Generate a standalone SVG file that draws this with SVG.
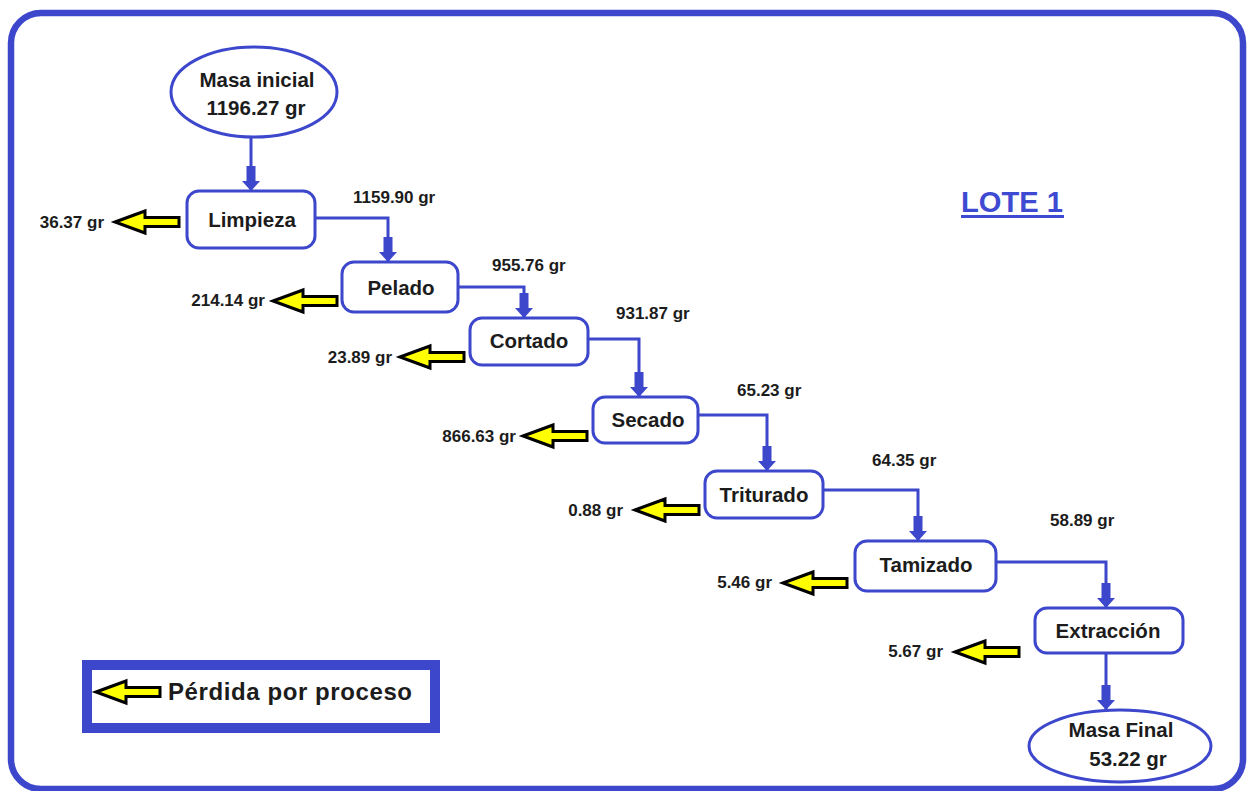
<svg xmlns="http://www.w3.org/2000/svg" width="1250" height="791" viewBox="0 0 1250 791">
  <style>
    .frame { fill: #ffffff; stroke: #3d47cc; stroke-width: 6.5; }
    .box { fill: #ffffff; stroke: #3d47cc; stroke-width: 3; }
    .flow { fill: none; stroke: #3d47cc; stroke-width: 3; }
    .node-text { font-family: "Liberation Sans", Arial, sans-serif; font-weight: bold; font-size: 20.5px; fill: #1c1c1c; text-anchor: middle; }
    .qty { font-family: "Liberation Sans", Arial, sans-serif; font-weight: bold; font-size: 17px; fill: #1c1c1c; }
    .loss-label { text-anchor: end; }
    .title { font-family: "Liberation Sans", Arial, sans-serif; font-weight: bold; font-size: 29px; fill: #3f4ad2; }
    .legend-text { font-family: "Liberation Sans", Arial, sans-serif; font-weight: bold; font-size: 24px; fill: #1c1c1c; }
  </style>
  <defs>
    <!-- blue block arrowhead for the mass flow -->
    <marker id="flowHead" markerUnits="userSpaceOnUse" orient="auto" viewBox="0 -10 27 20" refX="25" refY="0" markerWidth="27" markerHeight="20">
      <path d="M0,-4.5 H15 V-9 L25,0 L15,9 V4.5 H0 Z" fill="#3d47cc"/>
    </marker>
    <!-- yellow loss arrow, tip at the origin, pointing left -->
    <path id="loss" d="M0,0 L30,-11 L30,-4.5 L64,-4.5 L64,4.5 L30,4.5 L30,11 Z" fill="#ffff00" stroke="#000000" stroke-width="3" stroke-linejoin="miter"/>
  </defs>

  <!-- outer frame -->
  <rect class="frame" x="11" y="13" width="1232" height="776" rx="30" ry="30"/>

  <!-- title -->
  <g id="title">
    <text class="title" x="961" y="212" textLength="102" lengthAdjust="spacingAndGlyphs">LOTE 1</text>
    <rect x="961" y="215" width="103" height="3" fill="#3f4ad2"/>
  </g>

  <!-- connectors -->
  <g id="connectors">
    <path class="flow" d="M251,137 V191" marker-end="url(#flowHead)"/>
    <path class="flow" d="M315,218 H388 V262" marker-end="url(#flowHead)"/>
    <path class="flow" d="M458,287 H524 V318" marker-end="url(#flowHead)"/>
    <path class="flow" d="M588,339 H639 V397" marker-end="url(#flowHead)"/>
    <path class="flow" d="M698,415 H767 V471" marker-end="url(#flowHead)"/>
    <path class="flow" d="M823,490 H918 V541" marker-end="url(#flowHead)"/>
    <path class="flow" d="M996,562 H1106 V608" marker-end="url(#flowHead)"/>
    <path class="flow" d="M1106,653 V710" marker-end="url(#flowHead)"/>
  </g>

  <!-- flow quantities -->
  <g id="flow-labels" class="qty">
    <text x="353" y="203">1159.90 gr</text>
    <text x="492" y="271">955.76 gr</text>
    <text x="616" y="319">931.87 gr</text>
    <text x="737" y="396">65.23 gr</text>
    <text x="872" y="466">64.35 gr</text>
    <text x="1050" y="526">58.89 gr</text>
  </g>

  <!-- nodes -->
  <g id="masa-inicial">
    <ellipse class="box" cx="254" cy="92" rx="83" ry="45"/>
    <text class="node-text" x="257" y="87">Masa inicial</text>
    <text class="node-text" x="256" y="115">1196.27 gr</text>
  </g>

  <g id="limpieza">
    <rect class="box" x="187" y="191" width="128" height="57" rx="12"/>
    <text class="node-text" x="252" y="227">Limpieza</text>
    <use href="#loss" x="115" y="222"/>
    <text class="qty loss-label" x="104" y="228">36.37 gr</text>
  </g>

  <g id="pelado">
    <rect class="box" x="342" y="262" width="116" height="50" rx="12"/>
    <text class="node-text" x="401" y="295">Pelado</text>
    <use href="#loss" x="273" y="301"/>
    <text class="qty loss-label" x="265" y="306">214.14 gr</text>
  </g>

  <g id="cortado">
    <rect class="box" x="470" y="318" width="118" height="47" rx="12"/>
    <text class="node-text" x="529" y="348">Cortado</text>
    <use href="#loss" x="400" y="357"/>
    <text class="qty loss-label" x="392" y="363">23.89 gr</text>
  </g>

  <g id="secado">
    <rect class="box" x="593" y="397" width="105" height="46" rx="12"/>
    <text class="node-text" x="648" y="427">Secado</text>
    <use href="#loss" x="523" y="436"/>
    <text class="qty loss-label" x="516" y="442">866.63 gr</text>
  </g>

  <g id="triturado">
    <rect class="box" x="705" y="471" width="118" height="47" rx="12"/>
    <text class="node-text" x="764" y="502">Triturado</text>
    <use href="#loss" x="635" y="510"/>
    <text class="qty loss-label" x="623" y="516">0.88 gr</text>
  </g>

  <g id="tamizado">
    <rect class="box" x="855" y="541" width="141" height="50" rx="12"/>
    <text class="node-text" x="926" y="572">Tamizado</text>
    <use href="#loss" x="783" y="583"/>
    <text class="qty loss-label" x="772" y="588">5.46 gr</text>
  </g>

  <g id="extraccion">
    <rect class="box" x="1035" y="608" width="148" height="45" rx="12"/>
    <text class="node-text" x="1108" y="638">Extracción</text>
    <use href="#loss" x="955" y="652"/>
    <text class="qty loss-label" x="943" y="657">5.67 gr</text>
  </g>

  <g id="masa-final">
    <ellipse class="box" cx="1120" cy="746" rx="91" ry="36"/>
    <text class="node-text" x="1121" y="737">Masa Final</text>
    <text class="node-text" x="1128" y="766">53.22 gr</text>
  </g>

  <!-- legend -->
  <g id="legend">
    <rect x="87" y="665" width="348" height="63" fill="#ffffff" stroke="#3d47cc" stroke-width="10"/>
    <use href="#loss" x="96" y="692"/>
    <text class="legend-text" x="168" y="700" textLength="244" lengthAdjust="spacing">Pérdida por proceso</text>
  </g>
</svg>
